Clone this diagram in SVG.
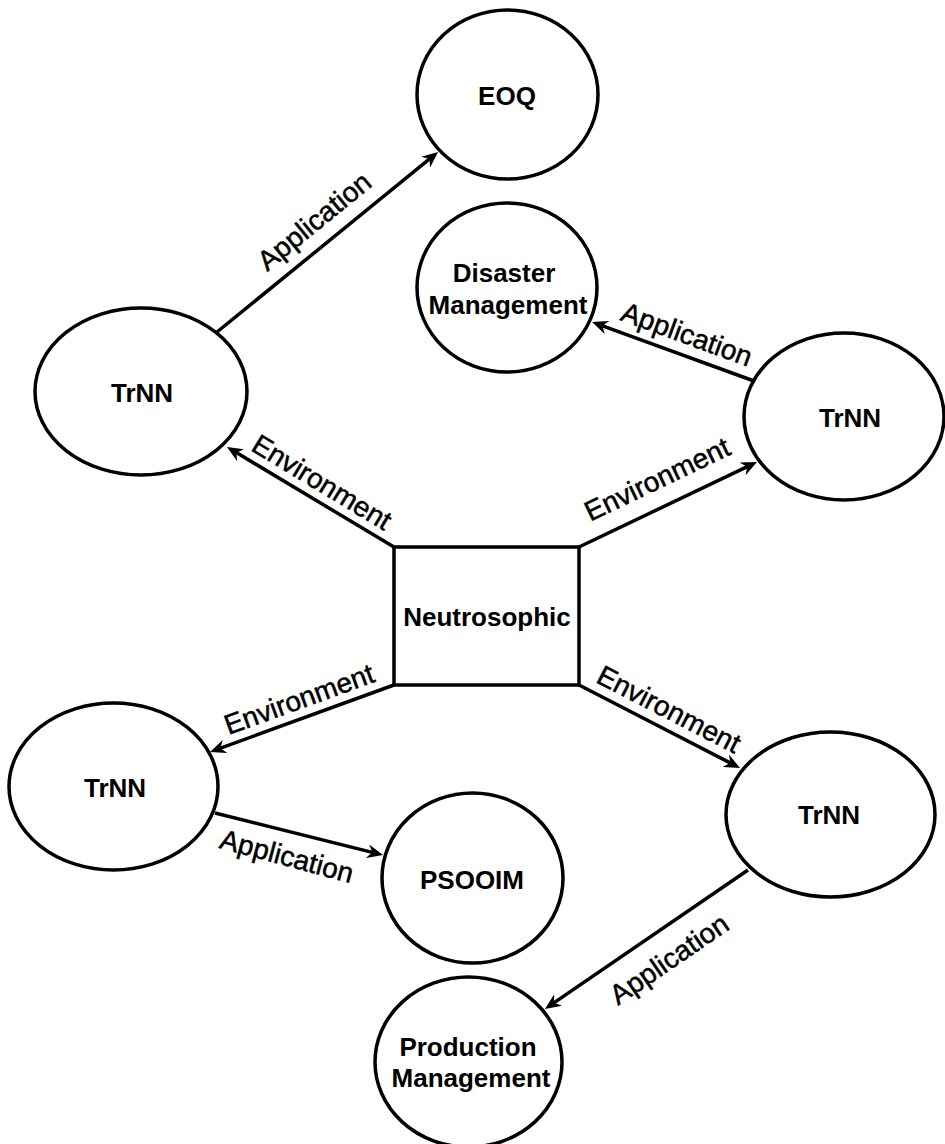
<svg xmlns="http://www.w3.org/2000/svg" width="945" height="1144" viewBox="0 0 945 1144">
  <style>
    .node { fill: #ffffff; stroke: #000000; stroke-width: 3.5; }
    .name { font-family: "Liberation Sans", Arial, sans-serif; font-weight: bold; font-size: 26px; fill: #000000; text-anchor: middle; }
    .edge { fill: none; stroke: #000000; stroke-width: 3.5; marker-end: url(#arrow); }
    .tag { font-family: "Liberation Sans", Arial, sans-serif; font-size: 28px; fill: #000000; stroke: #000000; stroke-width: 0.5; text-anchor: middle; }
  </style>
  <defs>
    <marker id="arrow" viewBox="0 0 16 14" refX="7" refY="7" markerWidth="16" markerHeight="14" markerUnits="userSpaceOnUse" orient="auto">
      <path d="M0,0 L16,7 L0,14 L5,7 Z" fill="#000000"/>
    </marker>
  </defs>
  <rect width="945" height="1144" fill="#ffffff"/>

  <!-- connectors -->
  <g id="connectors">
    <line class="edge" x1="217" y1="332" x2="431.1" y2="157.7"/>
    <line class="edge" x1="754" y1="381" x2="600.5" y2="325.1"/>
    <line class="edge" x1="394" y1="547" x2="234.7" y2="451.6"/>
    <line class="edge" x1="579" y1="547" x2="748.9" y2="465.9"/>
    <line class="edge" x1="394" y1="685" x2="218.5" y2="748.9"/>
    <line class="edge" x1="579" y1="685" x2="732" y2="763.9"/>
    <line class="edge" x1="215" y1="813" x2="374.3" y2="852.9"/>
    <line class="edge" x1="748" y1="870" x2="552.4" y2="1003.9"/>

    <text class="tag" transform="translate(314,221) rotate(-39.2)" dy="0.35em">Application</text>
    <text class="tag" transform="translate(687,334) rotate(20.1)" dy="0.35em">Application</text>
    <text class="tag" transform="translate(322,482) rotate(31.2)" dy="0.35em">Environment</text>
    <text class="tag" transform="translate(657,479) rotate(-25.5)" dy="0.35em">Environment</text>
    <text class="tag" transform="translate(299,699) rotate(-20)" dy="0.35em">Environment</text>
    <text class="tag" transform="translate(669,709) rotate(27.3)" dy="0.35em">Environment</text>
    <text class="tag" transform="translate(287,856) rotate(15)" dy="0.35em">Application</text>
    <text class="tag" transform="translate(669,959) rotate(-34.4)" dy="0.35em">Application</text>
  </g>

  <!-- nodes -->
  <g id="eoq">
    <ellipse class="node" cx="507.5" cy="94.5" rx="90.5" ry="84.5"/>
    <text class="name" x="507" y="105">EOQ</text>
  </g>
  <g id="disaster-management">
    <ellipse class="node" cx="507" cy="287.5" rx="90" ry="84.5"/>
    <text class="name" x="504" y="282">Disaster</text>
    <text class="name" x="508" y="314">Management</text>
  </g>
  <g id="trnn-upper-left">
    <ellipse class="node" cx="141" cy="391.5" rx="106" ry="83.5"/>
    <text class="name" x="142" y="402">TrNN</text>
  </g>
  <g id="trnn-upper-right">
    <ellipse class="node" cx="844" cy="416.5" rx="100" ry="83.5"/>
    <text class="name" x="850" y="427">TrNN</text>
  </g>
  <g id="neutrosophic">
    <rect class="node" x="394" y="547" width="185" height="138"/>
    <text class="name" x="487" y="626">Neutrosophic</text>
  </g>
  <g id="trnn-lower-left">
    <ellipse class="node" cx="113.5" cy="786.5" rx="104.5" ry="83.5"/>
    <text class="name" x="115" y="797">TrNN</text>
  </g>
  <g id="trnn-lower-right">
    <ellipse class="node" cx="830.5" cy="814.5" rx="104.5" ry="82.5"/>
    <text class="name" x="829" y="824">TrNN</text>
  </g>
  <g id="psooim">
    <ellipse class="node" cx="472.5" cy="878" rx="90.5" ry="85"/>
    <text class="name" x="472" y="889">PSOOIM</text>
  </g>
  <g id="production-management">
    <ellipse class="node" cx="468.5" cy="1062" rx="93.5" ry="85"/>
    <text class="name" x="468" y="1056">Production</text>
    <text class="name" x="471" y="1087">Management</text>
  </g>
</svg>
